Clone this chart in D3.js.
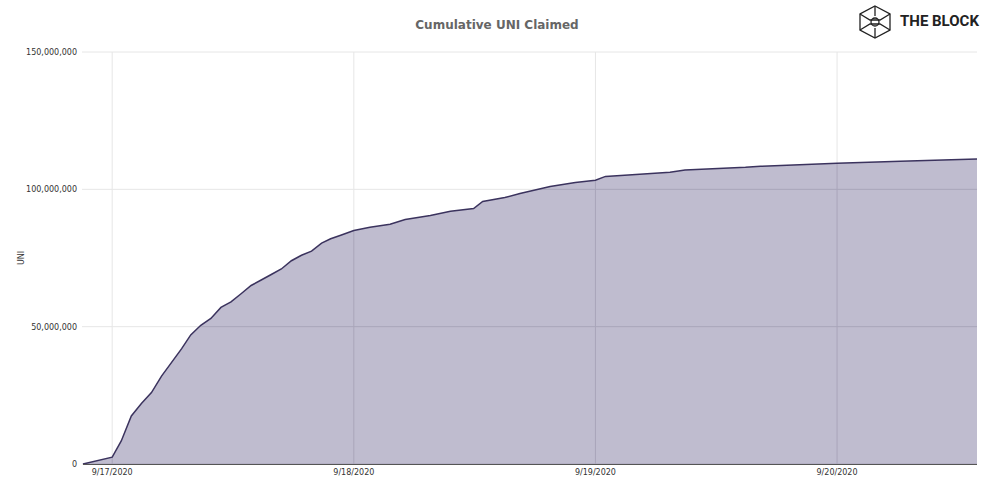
<!DOCTYPE html>
<html><head><meta charset="utf-8">
<script src="https://cdn.jsdelivr.net/npm/d3@7"></script>
<style>body{margin:0;background:#fff;font-family:Verdana,"DejaVu Sans",sans-serif}</style>
</head><body><svg width="991" height="489"></svg>
<script>
// hours after 9/17/2020 00:00
const hours = [-2.9,0,0.9,1.9,2.9,3.9,4.9,5.9,6.9,7.8,8.8,9.8,10.8,11.8,12.8,13.8,14.8,15.8,16.8,17.8,18.8,19.8,20.8,21.7,22.7,24,
  25.6,27.6,29.1,31.6,33.6,35.9,36.8,39,40.5,43.5,46,48,49,52.4,55.4,56.9,62.9,64.4,72,78.3,85.9];
// cumulative UNI, millions
const claimed = [0,2.5,8.4,17.5,22,26,32,37,42,47,50.5,53,57,59,62,65,67,69,71,74,76,77.5,80.4,82,83.3,85,
  86.2,87.3,89,90.5,92,93,95.6,97,98.5,101,102.5,103.3,104.7,105.5,106.2,107,108,108.4,109.5,110.2,111];
const yTicks = [0,50e6,100e6,150e6];
const dayTicks = [17,18,19,20];

const t0 = new Date(2020,8,17);
const data = hours.map((h,i)=>({t:new Date(+t0+h*3600e3), v:claimed[i]*1e6}));
const svg = d3.select("svg");
const x = d3.scaleTime().domain([data[0].t, data[data.length-1].t]).range([83,977]);
const y = d3.scaleLinear().domain([0,150e6]).range([464,52]);
const area = d3.area().x(d=>x(d.t)).y0(464).y1(d=>y(d.v));

svg.append("clipPath").attr("id","ac").append("path").datum(data).attr("d",area);

function grid(g, col){
  g.selectAll(".h").data(yTicks).join("line")
    .attr("x1",82).attr("x2",977).attr("y1",d=>y(d)).attr("y2",d=>y(d)).attr("stroke",col);
  g.selectAll(".v").data(dayTicks).join("line")
    .attr("x1",d=>x(new Date(2020,8,d))).attr("x2",d=>x(new Date(2020,8,d)))
    .attr("y1",52).attr("y2",464).attr("stroke",col);
}
grid(svg.append("g"),"#e6e6e6");
svg.append("path").datum(data).attr("fill","#bfbccf").attr("d",area);
grid(svg.append("g").attr("clip-path","url(#ac)"),"#a9a5ba");
svg.append("path").datum(data).attr("fill","none").attr("stroke","#3b335e").attr("stroke-width",1.5)
  .attr("d",d3.line().x(d=>x(d.t)).y(d=>y(d.v)));
svg.append("line").attr("x1",83).attr("x2",977).attr("y1",464.5).attr("y2",464.5).attr("stroke","#555");

svg.append("g").selectAll("text").data(yTicks).join("text")
  .attr("x",77).attr("y",d=>y(d)+3).attr("text-anchor","end").attr("font-size",8).attr("fill","#333")
  .text(d3.format(","));
svg.append("g").selectAll("text").data(dayTicks).join("text")
  .attr("x",d=>x(new Date(2020,8,d))).attr("y",475).attr("text-anchor","middle").attr("font-size",8).attr("fill","#333")
  .text(d=>`9/${d}/2020`);
svg.append("text").attr("transform","translate(24,258) rotate(-90)").attr("text-anchor","middle")
  .attr("font-size",8).attr("fill","#333").text("UNI");
svg.append("text").attr("x",497).attr("y",29).attr("text-anchor","middle").attr("font-size",12)
  .attr("font-weight","bold").attr("fill","#666").text("Cumulative UNI Claimed");

// logo
const lg = svg.append("g").attr("transform","translate(875,20)").attr("fill","none").attr("stroke","#222").attr("stroke-width",1.3);
lg.append("path").attr("d","M0,-14 L15,-6 L15,10 L0,18 L-15,10 L-15,-6 Z");
lg.append("path").attr("d","M-15,-6 L-5,0 L5,0 L15,-6 M-15,10 L-5,4 L5,4 L15,10 M0,-14 L0,-4 M0,8 L0,18");
lg.append("circle").attr("cx",0).attr("cy",2).attr("r",4);
svg.append("text").attr("x",900).attr("y",26).attr("font-size",15).attr("font-weight","bold")
  .attr("font-family","Roboto,'Liberation Sans',sans-serif").attr("fill","#222").text("THE BLOCK");
</script></body></html>
